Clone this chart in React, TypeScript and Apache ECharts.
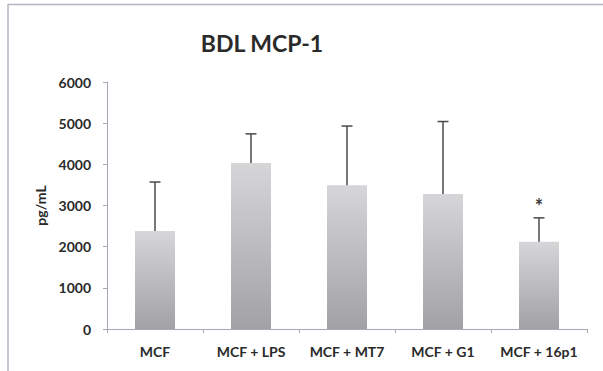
import React, { useEffect, useRef } from "react";
import * as echarts from "echarts";

const categories = ["MCF", "MCF + LPS", "MCF + MT7", "MCF + G1", "MCF + 16p1"];
const means = [2380, 4030, 3490, 3280, 2120];
const errorTops = [3570, 4740, 4930, 5040, 2700];
const significance = ["", "", "", "", "*"];
const yTicks = [0, 1000, 2000, 3000, 4000, 5000, 6000];

export default function App() {
  const ref = useRef<HTMLDivElement>(null);
  useEffect(() => {
    if (!ref.current) return;
    const chart = echarts.init(ref.current, null, { renderer: "svg" });
    const font = "Lato, 'Open Sans', sans-serif";
    chart.setOption({
      animation: false,
      backgroundColor: "#ffffff",
      textStyle: { fontFamily: font },
      graphic: [
        {
          type: "line",
          shape: { x1: 8, y1: 4.5, x2: 603, y2: 4.5 },
          style: { stroke: "#b4b4c6", lineWidth: 1.5 },
        },
        {
          type: "line",
          shape: { x1: 8, y1: 4, x2: 8, y2: 371 },
          style: { stroke: "#b4b4c6", lineWidth: 1.5 },
        },
        {
          type: "text",
          x: 262,
          y: 43,
          style: {
            text: "BDL MCP-1",
            fontFamily: font,
            fontWeight: "bold",
            fontSize: 23,
            fill: "#2a2a2a",
            textAlign: "center",
            textVerticalAlign: "middle",
          },
        },
      ],
      grid: { left: 107, right: 16, top: 82, bottom: 42 },
      xAxis: {
        type: "category",
        data: categories,
        axisLine: { lineStyle: { color: "#a8a8b4", width: 1 } },
        axisTick: { show: true, length: 4, lineStyle: { color: "#a8a8b4" } },
        axisLabel: {
          interval: 0,
          hideOverlap: false,
          margin: 15,
          fontFamily: font,
          fontWeight: "bold",
          fontSize: 14,
          color: "#2a2a2a",
        },
      },
      yAxis: {
        type: "value",
        min: yTicks[0],
        max: yTicks[yTicks.length - 1],
        interval: 1000,
        name: "pg/mL",
        nameLocation: "middle",
        nameGap: 55,
        nameRotate: 90,
        nameTextStyle: {
          fontFamily: font,
          fontWeight: "bold",
          fontSize: 14,
          color: "#2a2a2a",
        },
        splitLine: { show: false },
        axisLine: { show: true, lineStyle: { color: "#a8a8b4", width: 1 } },
        axisTick: { show: true, length: 4, lineStyle: { color: "#a8a8b4" } },
        axisLabel: {
          margin: 16,
          fontFamily: font,
          fontWeight: "bold",
          fontSize: 14,
          color: "#2a2a2a",
          formatter: (v: number) => String(v),
        },
      },
      series: [
        {
          type: "bar",
          data: means,
          barWidth: 40,
          itemStyle: {
            color: new echarts.graphic.LinearGradient(0, 0, 0, 1, [
              { offset: 0, color: "#d6d6d8" },
              { offset: 1, color: "#a2a2a6" },
            ]),
          },
        },
        {
          type: "custom",
          data: errorTops.map((t, i) => [i, means[i], t]),
          z: 10,
          renderItem: (params: any, api: any) => {
            const i = api.value(0);
            const base = api.coord([i, api.value(1)]);
            const top = api.coord([i, api.value(2)]);
            const hw = 5.5;
            const children: any[] = [
              {
                type: "line",
                shape: { x1: base[0], y1: base[1], x2: top[0], y2: top[1] },
                style: { stroke: "#4a4a4a", lineWidth: 1.5 },
              },
              {
                type: "line",
                shape: { x1: top[0] - hw, y1: top[1], x2: top[0] + hw, y2: top[1] },
                style: { stroke: "#4a4a4a", lineWidth: 1.5 },
              },
            ];
            const sig = significance[params.dataIndex];
            if (sig) {
              children.push({
                type: "text",
                x: top[0],
                y: top[1] - 12,
                style: {
                  text: sig,
                  fontFamily: font,
                  fontWeight: "bold",
                  fontSize: 20,
                  fill: "#3a3a3a",
                  textAlign: "center",
                  textVerticalAlign: "middle",
                },
              });
            }
            return { type: "group", children };
          },
        },
      ],
    });
    return () => chart.dispose();
  }, []);
  return (
    <div
      ref={ref}
      style={{ position: "absolute", left: 0, top: 0, width: 603, height: 371 }}
    />
  );
}
